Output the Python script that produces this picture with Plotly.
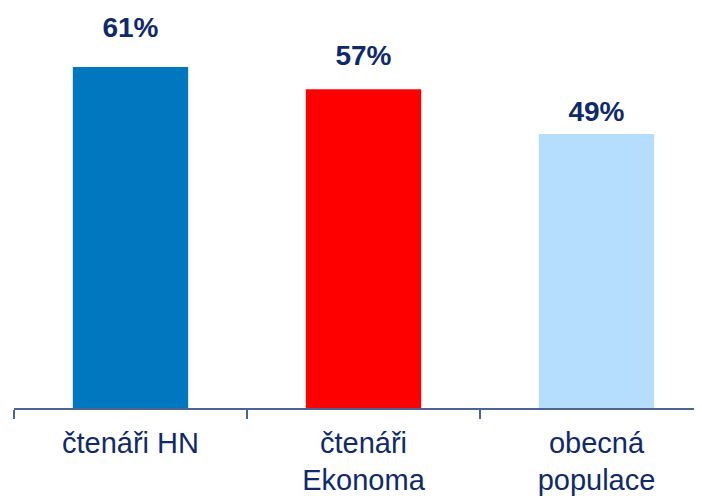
import plotly.graph_objects as go

categories = ["čtenáři HN", "čtenáři<br>Ekonoma", "obecná<br>populace"]
values = [61, 57, 49]
labels = ["61%", "57%", "49%"]
colors = ["#0077BE", "#FF0000", "#B5DDFE"]

text_color = "#0F2A6B"

fig = go.Figure()
fig.add_trace(go.Bar(
    x=categories, y=values, marker=dict(color=colors, line=dict(width=0)),
    width=0.495, hoverinfo="skip",
))
# value labels on an overlaid helper axis
fig.add_trace(go.Scatter(
    x=categories, y=values, yaxis="y2", mode="text", text=labels,
    textposition="top center",
    textfont=dict(family="Liberation Sans, Arial", size=28, color=text_color),
    hoverinfo="skip", cliponaxis=False,
))

fig.update_layout(
    width=702, height=499,
    margin=dict(l=6, r=0, t=0, b=99, autoexpand=False),
    paper_bgcolor="white", plot_bgcolor="white",
    showlegend=False,
    xaxis=dict(
        range=[-0.5, -0.5 + 696 / 233], automargin=False,
        showline=True, linecolor="#4A6590", linewidth=1.5,
        ticks="outside", tickson="boundaries", ticklen=9, tickcolor="#4A6590", tickwidth=1.5,
        tickfont=dict(family="Liberation Sans, Arial", size=29, color=text_color),
        ticklabelstandoff=8,
        showgrid=False, zeroline=False,
    ),
    yaxis=dict(range=[0, 400 / 5.59], visible=False, showgrid=False, zeroline=False, automargin=False),
    yaxis2=dict(range=[9, 66.14], overlaying="y", visible=False, showgrid=False, zeroline=False, automargin=False),
)
fig.update_traces(selector=dict(type="scatter"), texttemplate="<b>%{text}</b>")

fig.write_html("out.html")
